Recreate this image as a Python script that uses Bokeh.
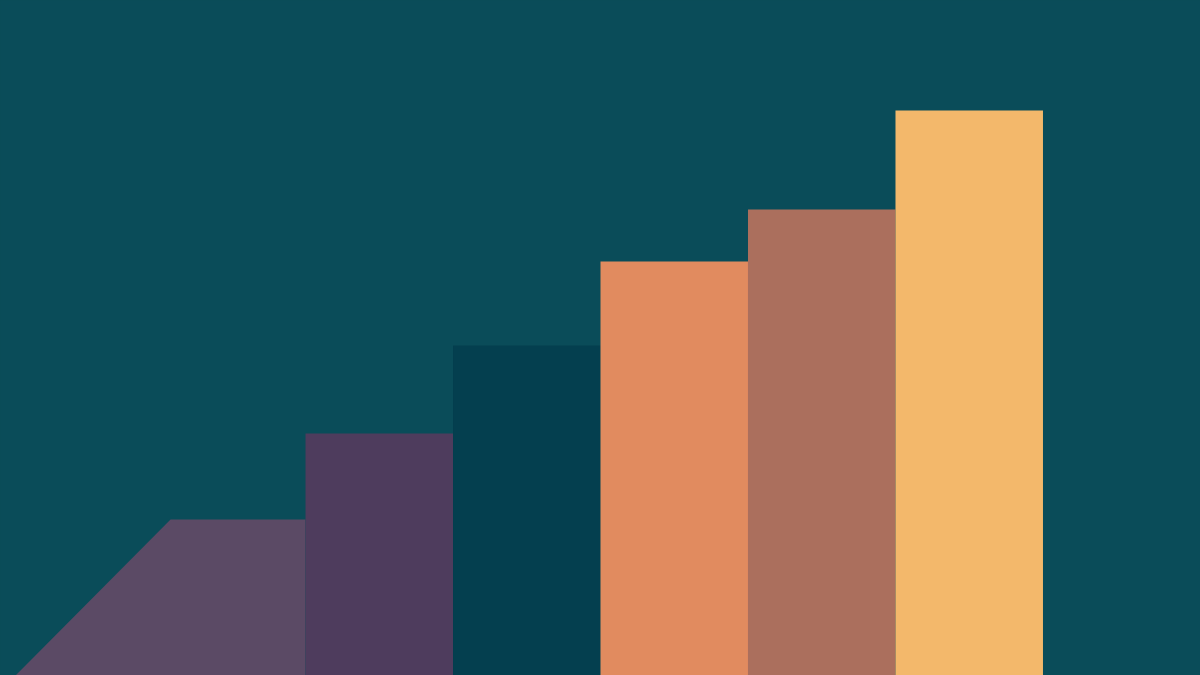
from bokeh.plotting import figure
from bokeh.embed import file_html
from bokeh.resources import INLINE
from bokeh.models import ColumnDataSource, Range1d, GlobalInlineStyleSheet

# ---- data ----
positions = [1, 2, 3, 4, 5, 6]
values = [156, 242, 330, 414, 466, 565]
colors = ["#5b4a65", "#4e3c5d", "#043f4f", "#e18b5f", "#ab6f5d", "#f3b86b"]
# first bar carries a sloped ramp on its left side
ramp_top_x = 0.585
ramp_foot_x = -0.466

BG = "#0a4c59"

p = figure(width=1200, height=675, output_backend="svg", toolbar_location=None,
           x_range=Range1d(-0.568, 7.568), y_range=Range1d(0, 675),
           min_border=0, background_fill_color=BG, border_fill_color=BG,
           outline_line_color=None)
p.axis.visible = False
p.grid.visible = False
p.stylesheets = [GlobalInlineStyleSheet(css=f"html, body {{ background: {BG}; overflow: hidden; }}")]

# first bar as a ramped shape
p.patch(x=[ramp_foot_x, ramp_top_x, positions[0] + 0.5, positions[0] + 0.5],
        y=[0, values[0], values[0], 0], fill_color=colors[0], line_color=None)

src = ColumnDataSource(dict(x=positions[1:], top=values[1:], color=colors[1:]))
p.vbar(x="x", top="top", bottom=0, width=1.0, fill_color="color", line_color=None, source=src)

open("out.html", "w").write(file_html(p, INLINE))
